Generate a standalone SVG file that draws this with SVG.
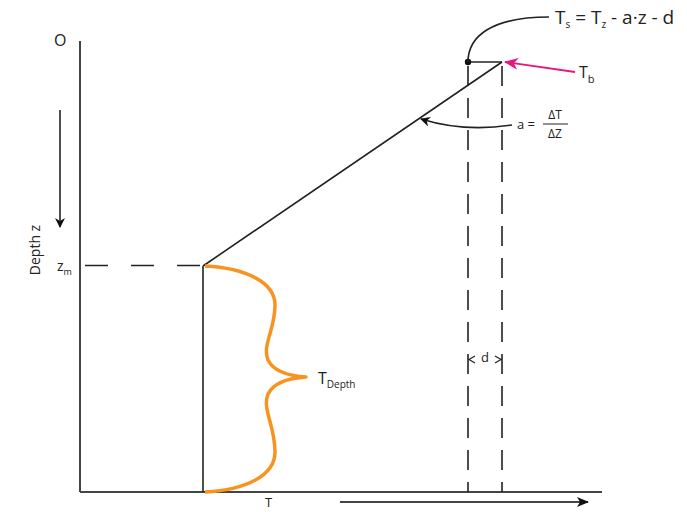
<svg xmlns="http://www.w3.org/2000/svg" width="687" height="512" viewBox="0 0 687 512">
<style>
.ln{stroke:#222;stroke-width:1.6;fill:none}
.ax{stroke:#444;stroke-width:2;fill:none}
.ds{stroke:#222;stroke-width:1.6;fill:none;stroke-dasharray:23 23}
.t{font-family:"Open Sans","Liberation Sans",sans-serif;fill:#222}
</style>
<defs>
<marker id="ah" markerWidth="10" markerHeight="10" refX="9" refY="5" orient="auto" markerUnits="userSpaceOnUse">
<path d="M0,0 L10,5 L0,10 L3,5 Z" fill="#111"/>
</marker>
<marker id="ahs" markerWidth="12" markerHeight="12" refX="11" refY="6" orient="auto" markerUnits="userSpaceOnUse">
<path d="M0,1 L12,6 L0,11 L3,6 Z" fill="#111"/>
</marker>
<marker id="ahp" markerWidth="14" markerHeight="12" refX="13" refY="6" orient="auto" markerUnits="userSpaceOnUse">
<path d="M0,0 L14,6 L0,12 L4,6 Z" fill="#e5187f"/>
</marker>
</defs>
<g id="axes">
<line class="ax" x1="80" y1="41" x2="80" y2="492"/>
<line class="ax" x1="80" y1="492" x2="602" y2="492"/>
</g>
<g id="labels">
<text class="t" x="54" y="46" font-size="16">O</text>
<text class="t" transform="translate(40,250) rotate(-90)" font-size="14" text-anchor="middle">Depth z</text>
<text class="t" x="57" y="271" font-size="14">z<tspan font-size="9" dy="4">m</tspan></text>
<text class="t" x="265" y="507" font-size="13">T</text>
<text class="t" x="318" y="384" font-size="16">T<tspan font-size="10" dy="4">Depth</tspan></text>
<text class="t" x="555" y="24" font-size="19">T<tspan font-size="10" dy="4">s</tspan><tspan dy="-4"> = T</tspan><tspan font-size="10" dy="4">z</tspan><tspan dy="-4"> - a·z - d</tspan></text>
<text class="t" x="579" y="78" font-size="16">T<tspan font-size="11" dy="5">b</tspan></text>
<text class="t" x="517" y="129" font-size="13">a =</text>
<text class="t" x="555" y="119" font-size="12" text-anchor="middle">ΔT</text>
<line x1="543" y1="124" x2="568" y2="124" stroke="#222" stroke-width="1"/>
<text class="t" x="555" y="138" font-size="12" text-anchor="middle">ΔZ</text>
<text class="t" x="485" y="362" font-size="13" text-anchor="middle">d</text>
</g>
<g id="profile">
<line class="ln" x1="203" y1="266" x2="203" y2="492"/>
<line class="ln" x1="203" y1="266" x2="502" y2="62"/>
<line class="ln" x1="468" y1="62" x2="502" y2="62"/>
<circle cx="468" cy="62" r="3.2" fill="#111"/>
</g>
<g id="brace">
<path d="M205,266 C245,268 275,282 275,305 C275,330 262,345 268,360 C274,372 290,376 306,377 C290,378 274,382 268,394 C262,410 275,425 275,452 C275,476 245,490 205,492" fill="none" stroke="#f7931e" stroke-width="3.5" stroke-linejoin="round"/>
</g>
<g id="connectors">
<line class="ds" x1="85" y1="265.5" x2="203" y2="265.5"/>
<line class="ln" x1="468" y1="66" x2="468" y2="492" stroke-dasharray="20 12"/>
<line class="ln" x1="502" y1="66" x2="502" y2="492" stroke-dasharray="20 12"/>
<line class="ln" x1="60" y1="110" x2="60" y2="227" marker-end="url(#ah)"/>
<line x1="340" y1="502" x2="588" y2="502" stroke="#444" stroke-width="2" marker-end="url(#ahs)"/>
<path class="ln" d="M468,62 C468,36 492,17 549,17"/>
<line x1="575" y1="72" x2="505" y2="62" stroke="#e5187f" stroke-width="1.8" marker-end="url(#ahp)"/>
<path class="ln" d="M512,125 C480,130 450,128 421,119" marker-end="url(#ah)"/>
<path d="M475,356 L469,359.5 L475,363 M495,356 L501,359.5 L495,363" fill="none" stroke="#222" stroke-width="1.2"/>
</g>
</svg>
